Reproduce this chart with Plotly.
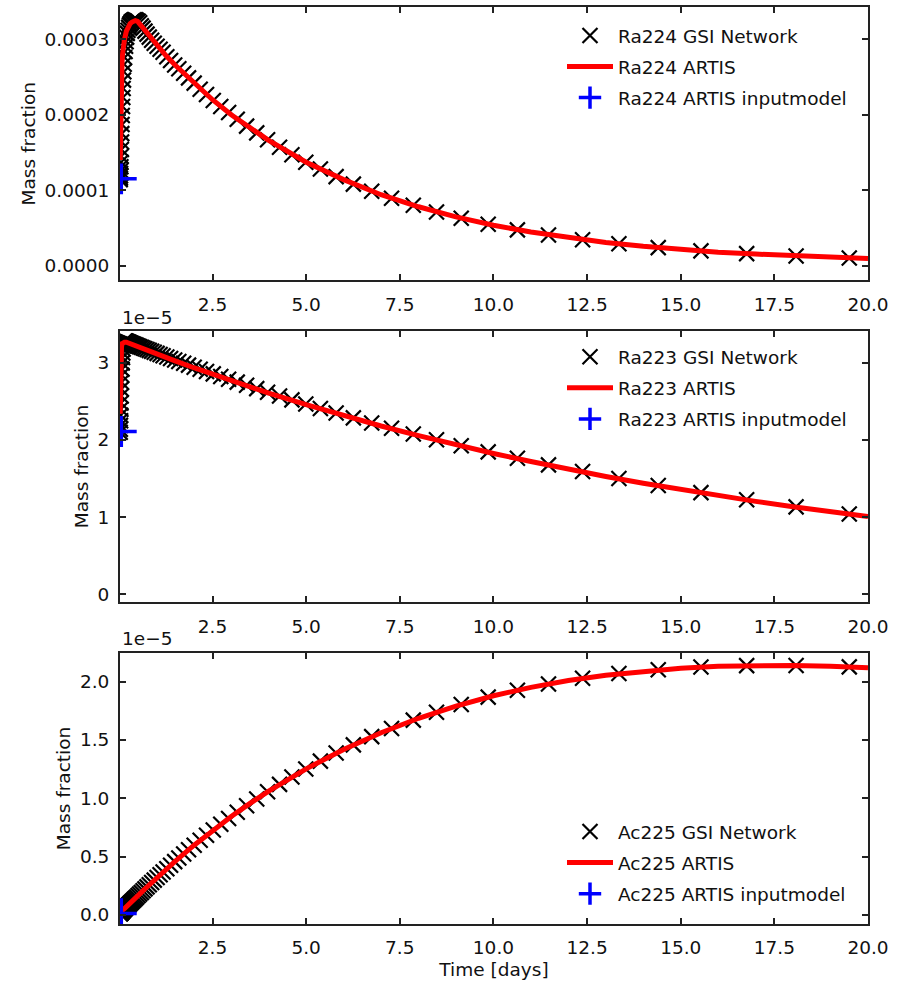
import plotly.graph_objects as go

# ---------------- data ----------------
ISOTOPES = ["Ra224", "Ra223", "Ac225"]

# GSI network output times [days]
GSI_T = [0.036, 0.039, 0.042, 0.046, 0.049, 0.053, 0.057, 0.062, 0.066, 0.072,
         0.077, 0.083, 0.090, 0.097, 0.105, 0.113, 0.122, 0.132, 0.142, 0.153,
         0.165, 0.178, 0.192, 0.207, 0.224, 0.241, 0.260, 0.281, 0.303, 0.327,
         0.352, 0.380, 0.410, 0.442, 0.477, 0.515, 0.555, 0.599, 0.646, 0.697,
         0.752, 0.811, 0.875, 0.944, 1.02, 1.10, 1.18, 1.28, 1.38, 1.49,
         1.60, 1.73, 1.86, 2.01, 2.17, 2.34, 2.52, 2.72, 2.93, 3.16,
         3.41, 3.68, 3.97, 4.29, 4.62, 4.99, 5.38, 5.80, 6.26, 6.75,
         7.28, 7.86, 8.48, 9.14, 9.86, 10.64, 11.47, 12.38, 13.35, 14.40,
         15.54, 16.76, 18.08, 19.50]

# Ra224 GSI mass fraction (units of 1e-4)
RA224_GSI = [1.14, 1.16, 1.19, 1.22, 1.26, 1.31, 1.37, 1.45, 1.54, 1.64,
             1.75, 1.87, 1.99, 2.11, 2.23, 2.35, 2.46, 2.57, 2.67, 2.76,
             2.84, 2.91, 2.97, 3.03, 3.08, 3.12, 3.16, 3.19, 3.21, 3.23,
             3.24, 3.25, 3.26, 3.26, 3.25, 3.24, 3.22, 3.18, 3.15, 3.11,
             3.07, 3.03, 2.99, 2.95, 2.91, 2.87, 2.83, 2.77, 2.72, 2.66,
             2.61, 2.55, 2.49, 2.42, 2.34, 2.27, 2.19, 2.11, 2.03, 1.94,
             1.85, 1.76, 1.67, 1.57, 1.47, 1.37, 1.28, 1.18, 1.08, 0.986,
             0.892, 0.800, 0.711, 0.628, 0.548, 0.473, 0.406, 0.343, 0.288, 0.238,
             0.195, 0.158, 0.127, 0.099]

# Ra223 GSI mass fraction (units of 1e-5)
RA223_GSI = [2.10, 2.14, 2.19, 2.25, 2.32, 2.40, 2.48, 2.57, 2.66, 2.75,
             2.84, 2.92, 3.00, 3.07, 3.13, 3.18, 3.22, 3.25, 3.27, 3.28,
             3.285, 3.285, 3.28, 3.278, 3.275, 3.272, 3.268, 3.264, 3.260, 3.255,
             3.250, 3.245, 3.239, 3.233, 3.226, 3.219, 3.211, 3.203, 3.194, 3.184,
             3.174, 3.163, 3.151, 3.138, 3.124, 3.109, 3.094, 3.076, 3.058, 3.038,
             3.018, 2.995, 2.972, 2.945, 2.918, 2.888, 2.858, 2.823, 2.788, 2.751,
             2.710, 2.667, 2.621, 2.571, 2.521, 2.466, 2.409, 2.350, 2.287, 2.221,
             2.152, 2.079, 2.004, 1.926, 1.846, 1.763, 1.677, 1.590, 1.500, 1.409,
             1.317, 1.225, 1.132, 1.040]

# Ac225 GSI mass fraction (units of 1e-5)
AC225_GSI = [0.012, 0.013, 0.014, 0.015, 0.016, 0.018, 0.019, 0.021, 0.022, 0.024,
             0.026, 0.028, 0.030, 0.032, 0.035, 0.038, 0.041, 0.044, 0.047, 0.051,
             0.055, 0.059, 0.064, 0.068, 0.074, 0.079, 0.086, 0.092, 0.100, 0.107,
             0.115, 0.124, 0.134, 0.144, 0.155, 0.167, 0.180, 0.193, 0.208, 0.224,
             0.241, 0.259, 0.278, 0.299, 0.322, 0.345, 0.369, 0.397, 0.426, 0.457,
             0.488, 0.523, 0.559, 0.598, 0.640, 0.683, 0.728, 0.777, 0.827, 0.880,
             0.936, 0.994, 1.055, 1.119, 1.182, 1.250, 1.318, 1.387, 1.457, 1.528,
             1.598, 1.669, 1.737, 1.803, 1.866, 1.925, 1.979, 2.027, 2.068, 2.100,
             2.124, 2.136, 2.137, 2.125]

# ARTIS output times [days]
ARTIS_T = [0.036, 0.04, 0.05, 0.06, 0.07, 0.085, 0.1, 0.12, 0.15, 0.2,
           0.25, 0.3, 0.35, 0.44, 0.5, 0.6, 0.7, 0.8, 1.0, 1.25,
           1.5, 2, 2.5, 3, 3.5, 4, 5, 6, 7, 8,
           9, 10, 11, 12, 13, 14, 15, 16, 17, 18,
           19, 20]

RA224_ARTIS = [1.40, 1.66, 2.10, 2.36, 2.54, 2.70, 2.81, 2.92, 3.00, 3.11,
               3.17, 3.21, 3.23, 3.25, 3.24, 3.18, 3.11, 3.04, 2.92, 2.79,
               2.66, 2.42, 2.20, 2.00, 1.82, 1.66, 1.37, 1.14, 0.94, 0.78,
               0.645, 0.535, 0.445, 0.37, 0.307, 0.256, 0.213, 0.178, 0.152, 0.128,
               0.108, 0.094]

RA223_ARTIS = [2.34, 2.62, 2.98, 3.14, 3.21, 3.25, 3.26, 3.27, 3.27, 3.27,
               3.26, 3.251, 3.241, 3.224, 3.212, 3.193, 3.174, 3.155, 3.118, 3.072,
               3.027, 2.938, 2.852, 2.768, 2.687, 2.608, 2.458, 2.316, 2.182, 2.056,
               1.937, 1.825, 1.720, 1.620, 1.527, 1.439, 1.355, 1.277, 1.203, 1.134,
               1.068, 1.007]

AC225_ARTIS = [0.03, 0.03, 0.031, 0.032, 0.034, 0.037, 0.041, 0.047, 0.055, 0.069,
               0.084, 0.1, 0.116, 0.144, 0.162, 0.194, 0.225, 0.255, 0.316, 0.389,
               0.46, 0.596, 0.723, 0.844, 0.956, 1.061, 1.252, 1.418, 1.561, 1.685,
               1.789, 1.878, 1.950, 2.008, 2.054, 2.089, 2.114, 2.130, 2.137, 2.137,
               2.131, 2.118]

# ARTIS input model (single point)
INPUT_T = [0.065]
RA224_INPUT = [1.15]
RA223_INPUT = [2.11]
AC225_INPUT = [0.012]

UNIT_SCALE = [1e-4, 1.0, 1.0]          # Ra224 plotted in absolute units; others in 1e-5
Y_RANGES = [[-0.0000197, 0.000343], [-0.108, 3.42], [-0.077, 2.245]]
Y_TICKS = [[0.0, 0.0001, 0.0002, 0.0003], [0, 1, 2, 3], [0.0, 0.5, 1.0, 1.5, 2.0]]
Y_FMT = [".4f", "d", ".1f"]
X_TICKS = [2.5, 5.0, 7.5, 10.0, 12.5, 15.0, 17.5, 20.0]

GSI = [RA224_GSI, RA223_GSI, AC225_GSI]
ARTIS = [RA224_ARTIS, RA223_ARTIS, AC225_ARTIS]
INPUT = [RA224_INPUT, RA223_INPUT, AC225_INPUT]

# ---------------- figure ----------------
FONT = "DejaVu Sans"
FS = 18.5
W, H = 900, 983
ML, MR, MT, MB = 120, 32, 5, 59
PH = H - MT - MB


def py2paper(py):
    return (H - MB - py) / PH


def px2paper(px):
    return (px - ML) / (W - ML - MR)


domains = [[py2paper(279), 1.0], [py2paper(601.7), py2paper(329.3)], [0.0, py2paper(652.3)]]

fig = go.Figure()
for i, iso in enumerate(ISOTOPES):
    xa = "x" if i == 0 else f"x{i+1}"
    ya = "y" if i == 0 else f"y{i+1}"
    lg = "legend" if i == 0 else f"legend{i+1}"
    s = UNIT_SCALE[i]
    fig.add_trace(go.Scatter(
        x=GSI_T, y=[v * s for v in GSI[i]], mode="markers",
        marker=dict(symbol="x-thin-open", size=15, color="black",
                    line=dict(width=2.2, color="black")),
        name=f"{iso} GSI Network", xaxis=xa, yaxis=ya, legend=lg,
        legendgroup=f"{iso}a"))
    fig.add_trace(go.Scatter(
        x=ARTIS_T, y=[v * s for v in ARTIS[i]], mode="lines",
        line=dict(color="#ff0000", width=5),
        name=f"{iso} ARTIS", xaxis=xa, yaxis=ya, legend=lg,
        legendgroup=f"{iso}b"))
    fig.add_trace(go.Scatter(
        x=INPUT_T, y=[v * s for v in INPUT[i]], mode="markers",
        marker=dict(symbol="cross-thin-open", size=22, color="#0000ff",
                    line=dict(width=3.5, color="#0000ff")),
        name=f"{iso} ARTIS inputmodel", xaxis=xa, yaxis=ya, legend=lg,
        legendgroup=f"{iso}c"))

axis_common = dict(showline=True, linecolor="#222", linewidth=2, mirror="ticks",
                   ticks="inside", ticklen=6, tickwidth=1.5, tickcolor="#222",
                   showgrid=False, zeroline=False,
                   tickfont=dict(family=FONT, size=FS, color="#111"))

layout = dict(
    width=W, height=H, plot_bgcolor="white", paper_bgcolor="white",
    margin=dict(l=ML, r=MR, t=MT, b=MB),
    font=dict(family=FONT, size=FS, color="#111"),
)
for i in range(3):
    xk = "xaxis" if i == 0 else f"xaxis{i+1}"
    yk = "yaxis" if i == 0 else f"yaxis{i+1}"
    ya = "y" if i == 0 else f"y{i+1}"
    xa = "x" if i == 0 else f"x{i+1}"
    xdict = dict(axis_common, range=[0.03, 20], tickvals=X_TICKS, tickformat=".1f",
                 anchor=ya, domain=[0, 1], ticklabelstandoff=6)
    if i == 2:
        xdict["title"] = dict(text="Time [days]", font=dict(family=FONT, size=FS), standoff=6)
    ydict = dict(axis_common, range=Y_RANGES[i], tickvals=Y_TICKS[i],
                 tickformat=Y_FMT[i], anchor=xa, domain=domains[i], ticklabelstandoff=5,
                 title=dict(text="Mass fraction", font=dict(family=FONT, size=FS), standoff=4))
    layout[xk] = xdict
    layout[yk] = ydict

leg_common = dict(xanchor="left", bgcolor="rgba(0,0,0,0)", borderwidth=0,
                  font=dict(family=FONT, size=FS, color="#111"), itemwidth=46,
                  tracegroupgap=4, traceorder="grouped")
layout["legend"] = dict(leg_common, x=px2paper(562), y=py2paper(15), yanchor="top")
layout["legend2"] = dict(leg_common, x=px2paper(562), y=py2paper(337), yanchor="top")
layout["legend3"] = dict(leg_common, x=px2paper(562), y=py2paper(913), yanchor="bottom")

layout["annotations"] = [
    dict(text="1e\u22125", xref="paper", yref="paper", x=0, y=py2paper(316),
         xanchor="left", yanchor="middle", showarrow=False,
         font=dict(family=FONT, size=FS, color="#111")),
    dict(text="1e\u22125", xref="paper", yref="paper", x=0, y=py2paper(638),
         xanchor="left", yanchor="middle", showarrow=False,
         font=dict(family=FONT, size=FS, color="#111")),
]

fig.update_layout(**layout)
fig.write_html("out.html")
